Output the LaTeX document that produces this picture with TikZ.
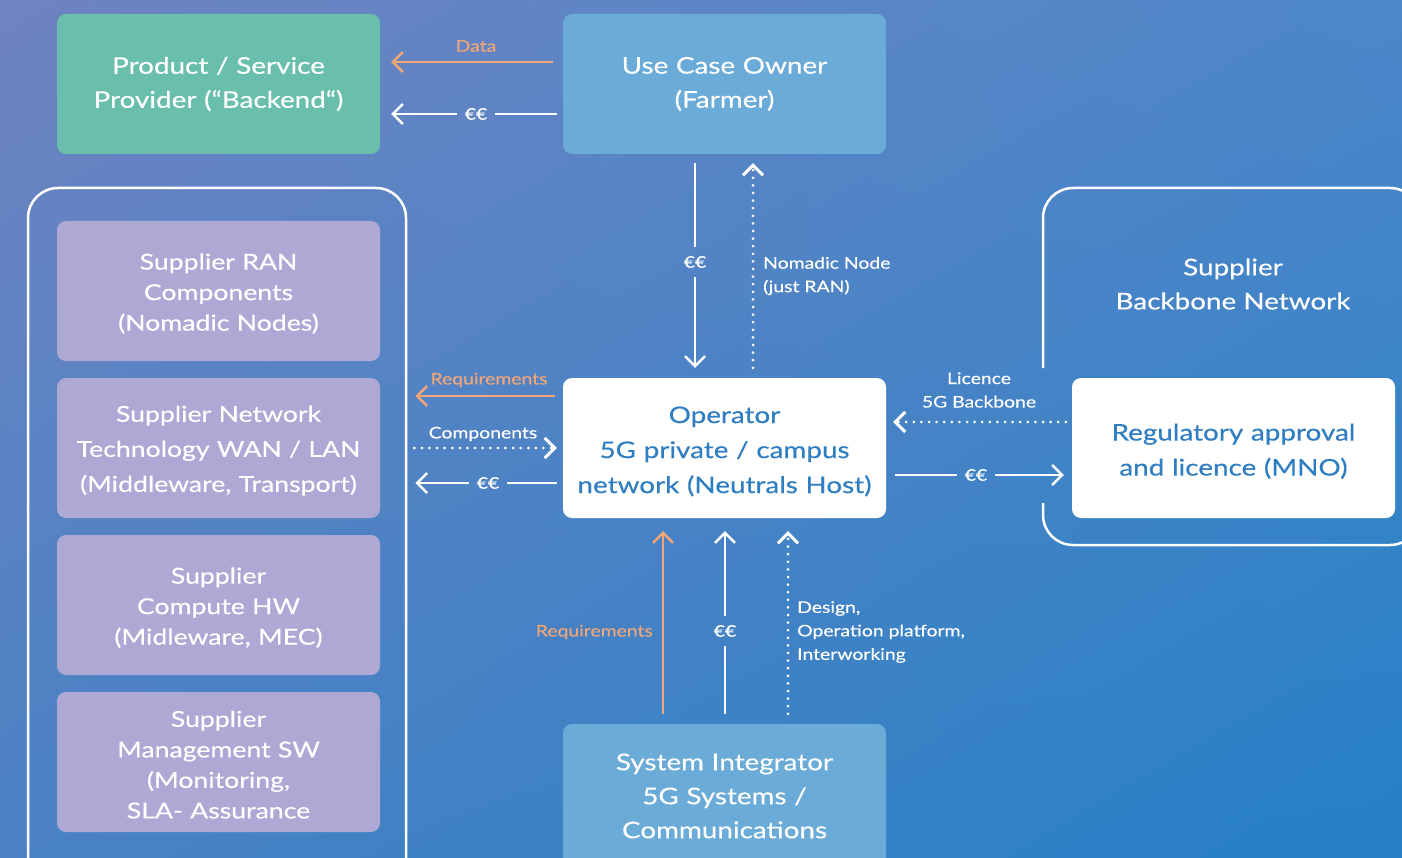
\documentclass[tikz,border=0pt]{standalone}
\usepackage{fontspec}
\setmainfont{Lato}[FakeStretch=1.21, FakeBold=0.3]
\usetikzlibrary{arrows.meta,shadings}

\definecolor{bgTL}{HTML}{6F83C1}
\definecolor{bgTR}{HTML}{4C87C9}
\definecolor{bgBL}{HTML}{4A82C4}
\definecolor{bgBR}{HTML}{2580C6}
\definecolor{provgreen}{HTML}{69BFAB}
\definecolor{ownerblue}{HTML}{6AABD7}
\definecolor{supplav}{HTML}{AEA8D5}
\definecolor{inkblue}{HTML}{2E7EC1}
\definecolor{flow}{HTML}{F3A778}

\tikzset{
  box/.style={rounded corners=9pt, minimum width=323pt, minimum height=140pt,
    text width=320pt, align=center, inner sep=0pt, text=white,
    font=\fontsize{23}{34}\selectfont},
  % a tall strut on the first line sets the text block a little lower
  lowered/.style={execute at begin node={\rule{0pt}{#1}}},
  suppbox/.style={box, fill=supplav, font=\fontsize{22}{30.5}\selectfont, lowered=21.5pt},
  whitebox/.style={box, fill=white, text=inkblue, font=\fontsize{23}{35}\selectfont, lowered=23.5pt},
  frame/.style={draw=white, line width=2.5pt, rounded corners=30pt},
  lbl/.style={text=white, font=\fontsize{16}{23.5}\selectfont, inner sep=0pt},
  money/.style={text=white, font=\fontsize{16}{20}\selectfont, inner xsep=8pt, inner ysep=9pt},
  conn/.style={line width=2.5pt, draw=white},
  arr/.style={conn, -{Straight Barb[length=10pt,width=20pt]}},
  dotted arr/.style={arr, line width=3pt, line cap=round, dash pattern=on 0pt off 7.6pt},
}

\begin{document}
\begin{tikzpicture}[x=1pt, y=-1pt]
% background
\shade[upper left=bgTL, upper right=bgTR, lower left=bgBL, lower right=bgBR]
  (0,0) rectangle (1402,858);
\useasboundingbox (0,0) rectangle (1402,858);
\clip (0,0) rectangle (1402,858);

% top row
\node[box, fill=provgreen] (prov) at (218.5,84) {Product / Service\\Provider (“Backend“)};
\node[box, fill=ownerblue] (owner) at (724.5,84) {Use Case Owner\\(Farmer)};

% supplier group on the left
\node[frame, minimum width=378pt, minimum height=712pt] (lframe) at (217,544) {};
\node[suppbox] (ran) at (218.5,291) {Supplier RAN\\Components\\(Nomadic Nodes)};
\node[suppbox, font=\fontsize{22}{35}\selectfont] (net) at (218.5,448) {Supplier Network\\Technology WAN / LAN\\(Middleware, Transport)};
\node[suppbox] (comp) at (218.5,605) {Supplier\\Compute HW\\(Midleware, MEC)};
\node[suppbox] (mgmt) at (218.5,762) {Supplier\\Management SW\\(Monitoring,\\SLA- Assurance};

% operator
\node[whitebox] (op) at (724.5,448) {Operator\\5G private / campus\\network (Neutrals Host)};

% backbone group on the right
\draw[frame] (1043,368) -- (1043,188) -- (1420,188) -- (1420,545) -- (1043,545) -- (1043,503);
\node[text=white, align=center, font=\fontsize{23}{34}\selectfont] (bbtitle) at (1233,284) {Supplier\\Backbone Network};
\node[whitebox] (reg) at (1233.5,448) {Regulatory approval\\and licence (MNO)};

% system integrator
\node[box, fill=ownerblue, minimum height=144pt] (si) at (724.5,796) {System Integrator\\5G Systems /\\Communications};

% owner -> provider
\node[lbl, text=flow] (datalbl) at (476,46) {Data};
\draw[arr, draw=flow, shorten <=10pt, shorten >=11pt] ([yshift=22pt]owner.west) -- ([yshift=22pt]prov.east);
\node[money] (m1) at (476,114) {€€};
\draw[conn, shorten <=6pt] (m1 -| owner.west) -- (m1.east);
\draw[arr, shorten >=11pt] (m1.west) -- (m1 -| prov.east);

% owner <-> operator
\node[money] (m2) at (695,262) {€€};
\draw[conn, shorten <=9pt] (m2 |- owner.south) -- (m2.north);
\draw[arr, shorten >=10pt] (m2.south) -- (m2 |- op.north);
\draw[dotted arr, shorten <=10pt, shorten >=9pt] ([xshift=28.5pt]op.north) -- ([xshift=28.5pt]owner.south);
\node[lbl, anchor=west, align=left] (nomlbl) at (763,276) {Nomadic Node\\(just RAN)};

% operator <-> suppliers
\node[lbl, text=flow] (reqlbl) at (489,380) {Requirements};
\draw[arr, draw=flow, shorten <=8pt, shorten >=8pt] ([yshift=52pt]op.west) -- ([yshift=52pt]op.west -| lframe.east);
\node[lbl] (complbl) at (483,434) {Components};
\draw[dotted arr, shorten <=7pt, shorten >=6pt] (op.west -| lframe.east) -- (op.west);
\node[money] (m3) at (488,483) {€€};
\draw[conn, shorten <=6pt] (m3 -| op.west) -- (m3.east);
\draw[arr, shorten >=8pt] (m3.west) -- (m3 -| lframe.east);

% operator <-> regulator
\node[lbl, align=center] (liclbl) at (979,390) {Licence\\5G Backbone};
\draw[dotted arr, shorten <=6pt, shorten >=7pt] ([yshift=26pt]reg.west) -- ([yshift=26pt]op.east);
\node[money] (m4) at (976,475) {€€};
\draw[conn, shorten <=9pt] (m4 -| op.east) -- (m4.west);
\draw[arr, shorten >=8pt] (m4.east) -- (m4 -| reg.west);

% integrator -> operator
\draw[arr, draw=flow, shorten <=10pt, shorten >=13pt] ([xshift=-61.5pt]si.north) -- ([xshift=-61.5pt]op.south);
\node[lbl, text=flow, anchor=east] (req2lbl) at (653,632) {Requirements};
\node[money] (m5) at (725,631) {€€};
\draw[conn, shorten <=10pt] (m5 |- si.north) -- (m5.south);
\draw[arr, shorten >=13pt] (m5.north) -- (m5 |- op.south);
\draw[dotted arr, shorten <=10pt, shorten >=13pt] ([xshift=63.5pt]si.north) -- ([xshift=63.5pt]op.south);
\node[lbl, anchor=north west, align=left] (dsglbl) at (797,601) {Design,\\Operation platform,\\Interworking};
\end{tikzpicture}
\end{document}
